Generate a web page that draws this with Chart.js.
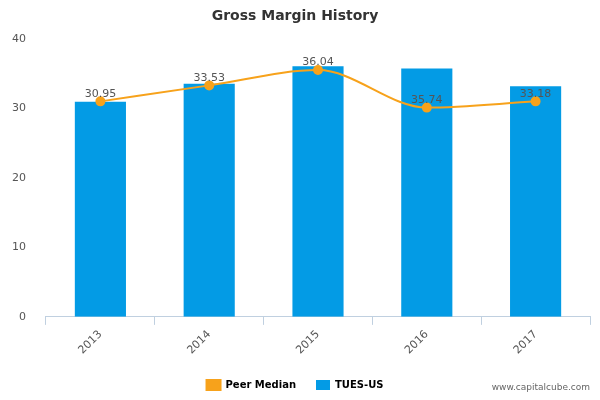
<!DOCTYPE html>
<html><head><meta charset="utf-8">
<script src="https://cdn.jsdelivr.net/npm/chart.js@4"></script>
<style>body{margin:0;background:#fff}#w{width:600px;height:400px;position:relative}
#wm{position:absolute;right:10px;bottom:8px;font:9px "DejaVu Sans",sans-serif;color:#666}</style>
</head><body><div id="w"><canvas id="c" width="600" height="400"></canvas><div id="wm">www.capitalcube.com</div></div>
<script>
const categories=["2013","2014","2015","2016","2017"];
const tuesValues=[30.95,33.53,36.04,35.74,33.18];
const peerValues=[31.0,33.3,35.5,30.1,31.0];
const yTicks=[0,10,20,30,40];

const labelPlugin={id:'lbl',afterDatasetsDraw(ch){
  const ctx=ch.ctx,m=ch.getDatasetMeta(0);
  ctx.save();ctx.font='11px "DejaVu Sans",sans-serif';ctx.fillStyle='#555';ctx.textAlign='center';ctx.textBaseline='bottom';
  m.data.forEach((b,i)=>ctx.fillText(tuesValues[i].toFixed(2),b.x,b.y-2));
  ctx.restore();}};

new Chart(document.getElementById('c'),{
 data:{labels:categories,datasets:[
  {type:'line',label:'Peer Median',data:peerValues,borderColor:'#f7a21b',backgroundColor:'#f7a21b',borderWidth:2,pointRadius:4,pointHoverRadius:4,tension:0.4,cubicInterpolationMode:'monotone',order:0},
  {type:'bar',label:'TUES-US',data:tuesValues,backgroundColor:'#039be5',barPercentage:0.47,categoryPercentage:1,order:1}
 ]},
 options:{responsive:false,animation:false,
  layout:{padding:{left:0,right:10,top:0,bottom:0}},
  plugins:{title:{display:true,text:'Gross Margin History',color:'#333',font:{family:'DejaVu Sans',size:14,weight:'bold'},padding:{top:8,bottom:14}},
   legend:{position:'bottom',reverse:true,labels:{usePointStyle:false,boxWidth:14,boxHeight:10,color:'#333',font:{family:'DejaVu Sans',size:10,weight:'bold'},padding:20,
    generateLabels(ch){return [{text:'TUES-US',fillStyle:'#039be5',strokeStyle:'#039be5',lineWidth:0,datasetIndex:1},{text:'Peer Median',fillStyle:'#f7a21b',strokeStyle:'#f7a21b',lineWidth:2,pointStyle:'line',datasetIndex:0}];}}},
   tooltip:{enabled:false}},
  scales:{
   x:{offset:true,grid:{offset:true,display:true,drawOnChartArea:false,color:'#c0d0e0',tickLength:8},border:{color:'#c0d0e0'},
      ticks:{color:'#555',font:{family:'DejaVu Sans',size:11},maxRotation:45,minRotation:45}},
   y:{min:0,max:40,afterBuildTicks(a){a.ticks=yTicks.map(v=>({value:v}));},grid:{display:false},border:{display:false},
      ticks:{color:'#555',font:{family:'DejaVu Sans',size:11},padding:12}}
  }},
 plugins:[labelPlugin]
});
</script></body></html>
